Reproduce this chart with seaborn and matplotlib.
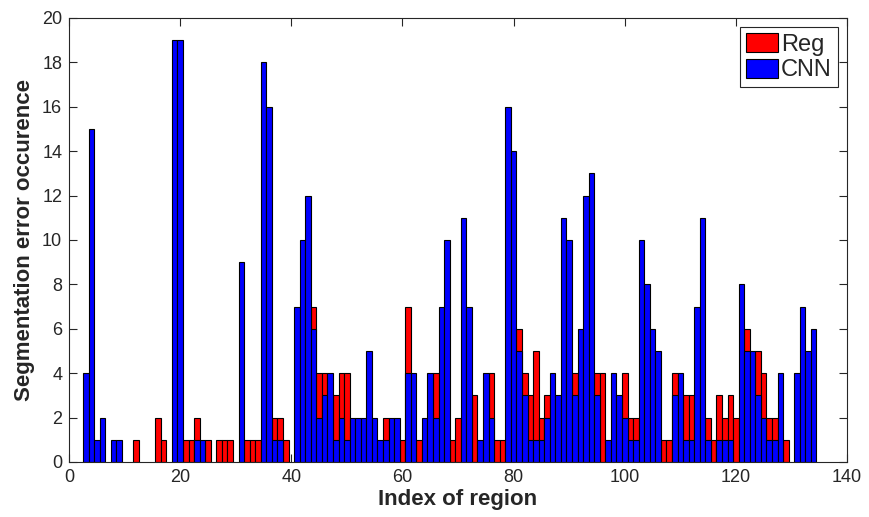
import pandas as pd
import matplotlib
matplotlib.use("Agg")
import matplotlib.pyplot as plt
import seaborn as sns

# -------------------------------
# 1. DATA (error counts per region)
# -------------------------------
regions = list(range(1, 135))

reg_counts = [0, 0, 0, 0, 0, 0, 0, 0, 0, 0,
              0, 1, 0, 0, 0, 2, 1, 0, 0, 0,
              1, 1, 2, 0, 1, 0, 1, 1, 1, 0,
              0, 1, 1, 1, 0, 0, 2, 2, 1, 0,
              0, 0, 0, 7, 4, 4, 0, 3, 4, 4,
              0, 0, 0, 0, 0, 0, 2, 0, 0, 1,
              7, 0, 1, 0, 0, 4, 0, 0, 1, 2,
              0, 0, 3, 0, 0, 4, 1, 1, 0, 0,
              6, 4, 3, 5, 2, 3, 0, 0, 0, 0,
              4, 0, 0, 0, 4, 4, 0, 0, 0, 4,
              2, 2, 0, 0, 0, 0, 1, 1, 4, 0,
              3, 3, 0, 0, 2, 1, 3, 2, 3, 2,
              0, 6, 0, 5, 4, 2, 2, 0, 1, 0,
              0, 0, 0, 0]

cnn_counts = [0, 0, 4, 15, 1, 2, 0, 1, 1, 0,
              0, 0, 0, 0, 0, 0, 0, 0, 19, 19,
              0, 0, 1, 1, 0, 0, 0, 0, 0, 0,
              9, 0, 0, 0, 18, 16, 1, 1, 0, 0,
              7, 10, 12, 6, 2, 3, 4, 1, 2, 1,
              2, 2, 2, 5, 2, 1, 1, 2, 2, 0,
              4, 4, 0, 2, 4, 2, 7, 10, 0, 0,
              11, 7, 0, 1, 4, 2, 0, 0, 16, 14,
              5, 3, 1, 1, 1, 2, 4, 3, 11, 10,
              3, 6, 12, 13, 3, 0, 1, 4, 3, 2,
              1, 1, 10, 8, 6, 5, 0, 0, 3, 4,
              1, 1, 7, 11, 1, 0, 1, 1, 1, 0,
              8, 5, 5, 3, 2, 1, 1, 4, 0, 0,
              4, 7, 5, 6]

x_ticks = [0, 20, 40, 60, 80, 100, 120, 140]
y_ticks = [0, 2, 4, 6, 8, 10, 12, 14, 16, 18, 20]

# -------------------------------
# 2. LONG TABLE (Reg drawn first, CNN on top)
# -------------------------------
df = pd.concat([
    pd.DataFrame({"region": regions, "count": reg_counts, "method": "Reg"}),
    pd.DataFrame({"region": regions, "count": cnn_counts, "method": "CNN"}),
])
df = df[df["count"] > 0]

# -------------------------------
# 3. PLOT
# -------------------------------
sns.set_style("ticks")
plt.rcParams["font.family"] = ["Liberation Sans", "DejaVu Sans"]

fig = plt.figure(figsize=(8.69, 5.17), dpi=100)
ax = fig.add_axes([0.0795, 0.1064, 0.8952, 0.8588])

sns.barplot(data=df, x="region", y="count", hue="method",
            hue_order=["Reg", "CNN"],
            palette={"Reg": "#ff0000", "CNN": "#0000ff"},
            saturation=1, dodge=False, native_scale=True, width=1.0,
            edgecolor="black", linewidth=0.8, errorbar=None, ax=ax)

ax.set_xlim(0, 140)
ax.set_ylim(0, 20)
ax.set_xticks(x_ticks)
ax.set_yticks(y_ticks)
ax.set_xticklabels([str(t) for t in x_ticks])
ax.set_yticklabels([str(t) for t in y_ticks])

gray = "#262626"
for side in ["left", "right", "top", "bottom"]:
    ax.spines[side].set_visible(True)
    ax.spines[side].set_color(gray)
    ax.spines[side].set_linewidth(0.8)
ax.tick_params(direction="in", length=6, width=0.8, color=gray,
               labelcolor=gray, labelsize=13, pad=5,
               top=True, right=True)

ax.set_xlabel("Index of region", fontsize=16, fontweight="bold", color=gray, labelpad=2)
ax.set_ylabel("Segmentation error occurence", fontsize=16, fontweight="bold", color=gray, labelpad=5)

leg = ax.legend(loc="upper right", bbox_to_anchor=(0.988, 0.98),
                fontsize=17, frameon=True, fancybox=False,
                handlelength=1.35, handleheight=0.9, handletextpad=0.12,
                borderpad=0.25, labelspacing=0.12, borderaxespad=0)
leg.get_frame().set_edgecolor(gray)
leg.get_frame().set_linewidth(0.8)
leg.get_frame().set_alpha(1)

fig.savefig("out.png", dpi=100)
